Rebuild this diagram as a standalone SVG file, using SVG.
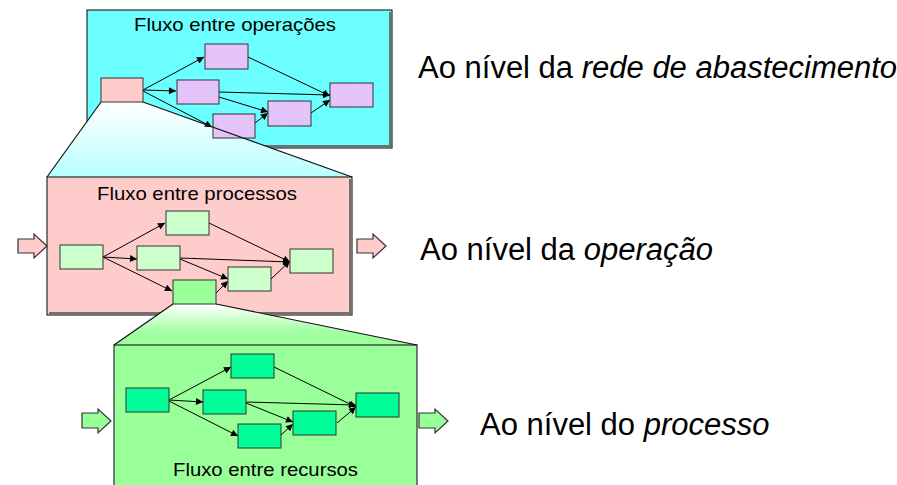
<svg xmlns="http://www.w3.org/2000/svg" width="897" height="485" viewBox="0 0 897 485">
<style>
.frame{stroke:#2a2a2a;stroke-width:1.2}
.bevel{fill:none;stroke:#707070;stroke-width:2}
.node{stroke:#333;stroke-width:1}
.pur{fill:url(#grid)}
.lg{fill:#CCFFCC}
.mg{fill:#99FF99}
.sg{fill:#00FF99}
.pk{fill:#FFCCCC}
.edge{fill:none;stroke:#000;stroke-width:1;marker-end:url(#ah)}
.trap{stroke:#111;stroke-width:1.2}
.title{font-family:"Liberation Sans",Arial,sans-serif;font-size:18.5px;fill:#000}
.big{font-family:"Liberation Sans",Arial,sans-serif;font-size:31px;fill:#000}
.blk{stroke:#333;stroke-width:1.2}
</style>
<defs>
<pattern id="grid" width="3" height="3" patternUnits="userSpaceOnUse">
<rect width="3" height="3" fill="#D8CCFF"/>
<path d="M0,0.5H3M0.5,0V3" stroke="#F4B8F4" stroke-width="0.8"/>
</pattern>
<linearGradient id="cyg" x1="0" y1="0" x2="0" y2="1">
<stop offset="0" stop-color="#FFFFFF"/>
<stop offset="1" stop-color="#B8FFFF"/>
</linearGradient>
<linearGradient id="grg" x1="0" y1="0" x2="0" y2="1">
<stop offset="0" stop-color="#FFFFFF"/>
<stop offset="0.65" stop-color="#A6FFA6"/>
<stop offset="1" stop-color="#99FF99"/>
</linearGradient>
<marker id="ah" viewBox="0 0 10 10" refX="10" refY="5" markerWidth="9" markerHeight="7" markerUnits="userSpaceOnUse" orient="auto">
<path d="M0,0L10,5L0,10z" fill="#000"/>
</marker>
</defs>

<g id="box-operacoes">
<rect class="frame" x="87" y="10" width="305" height="138" fill="#6CFFFF"/>
<path class="bevel" d="M390,12V146H89"/>
<text class="title" x="134" y="31" textLength="202" lengthAdjust="spacingAndGlyphs">Fluxo entre operações</text>
</g>

<g id="zoom-operacao">
<polygon points="101,102 143,102 352,177 47,177" fill="url(#cyg)"/>
</g>

<g id="box-processos">
<rect class="frame" x="47" y="177" width="305" height="138" fill="#FFCCCC"/>
<path class="bevel" d="M350,179V313H49"/>
<text class="title" x="97" y="200" textLength="200" lengthAdjust="spacingAndGlyphs">Fluxo entre processos</text>
</g>

<g id="zoom-processo">
<polygon points="173,304 216,304 417,345 114,345" fill="url(#grg)"/>
</g>

<g id="box-recursos">
<rect class="frame" x="114" y="345" width="303" height="150" fill="#99FF99"/>
<text class="title" x="173" y="476" textLength="185" lengthAdjust="spacingAndGlyphs">Fluxo entre recursos</text>
</g>

<g id="connectors">
<path class="edge" d="M143,90L204,57"/>
<path class="edge" d="M143,90L176,91"/>
<path class="edge" d="M143,91L212,127"/>
<path class="edge" d="M248,57L330,96"/>
<path class="edge" d="M219,92L330,95"/>
<path class="edge" d="M219,97L268,112"/>
<path class="edge" d="M255,123L268,113"/>
<path class="edge" d="M311,113L330,100"/>

<path class="edge" d="M103,257L165,223"/>
<path class="edge" d="M103,257L137,259"/>
<path class="edge" d="M103,257L172,291"/>
<path class="edge" d="M209,223L290,262"/>
<path class="edge" d="M180,258L290,262"/>
<path class="edge" d="M180,259L228,279"/>
<path class="edge" d="M216,293L228,281"/>
<path class="edge" d="M271,279L290,261"/>

<path class="edge" d="M169,400L231,367"/>
<path class="edge" d="M169,400L203,402"/>
<path class="edge" d="M169,401L238,436"/>
<path class="edge" d="M274,367L356,407"/>
<path class="edge" d="M246,402L356,405"/>
<path class="edge" d="M246,403L293,422"/>
<path class="edge" d="M281,435L293,424"/>
<path class="edge" d="M337,423L356,407"/>
</g>

<g id="nodes-operacoes">
<rect id="op0" class="node pk" x="101" y="78" width="42" height="24"/>
<rect id="op1" class="node pur" x="205" y="44" width="43" height="25"/>
<rect id="op2" class="node pur" x="177" y="80" width="42" height="24"/>
<rect id="op3" class="node pur" x="213" y="114" width="42" height="24"/>
<rect id="op4" class="node pur" x="268" y="101" width="43" height="25"/>
<rect id="op5" class="node pur" x="330" y="83" width="43" height="24"/>
</g>

<g id="nodes-processos">
<rect id="pr0" class="node lg" x="60" y="245" width="43" height="24"/>
<rect id="pr1" class="node lg" x="166" y="211" width="43" height="24"/>
<rect id="pr2" class="node lg" x="137" y="246" width="43" height="24"/>
<rect id="pr3" class="node mg" x="173" y="280" width="43" height="24"/>
<rect id="pr4" class="node lg" x="228" y="267" width="43" height="24"/>
<rect id="pr5" class="node lg" x="290" y="249" width="43" height="24"/>
</g>

<g id="nodes-recursos">
<rect id="re0" class="node sg" x="126" y="388" width="43" height="24"/>
<rect id="re1" class="node sg" x="231" y="354" width="43" height="24"/>
<rect id="re2" class="node sg" x="203" y="390" width="43" height="24"/>
<rect id="re3" class="node sg" x="238" y="424" width="43" height="24"/>
<rect id="re4" class="node sg" x="293" y="411" width="43" height="24"/>
<rect id="re5" class="node sg" x="356" y="393" width="43" height="24"/>
</g>

<g id="zoom-lines">
<path class="trap" fill="none" d="M101,102L47,177M143,102L352,177"/>
<path class="trap" fill="none" d="M173,304L114,345M216,304L417,345"/>
</g>

<g id="block-arrows">
<polygon class="blk pk" points="18,239 34,239 34,234 47,246 34,258 34,253 18,253"/>
<polygon class="blk pk" points="357,239 373,239 373,234 386,246 373,258 373,253 357,253"/>
<polygon class="blk mg" points="82,413 98,413 98,409 111,421 98,433 98,428 82,428"/>
<polygon class="blk mg" points="419,413 435,413 435,409 448,421 435,433 435,428 419,428"/>
</g>

<g id="labels">
<text class="big" x="418" y="78">Ao nível da <tspan font-style="italic">rede de abastecimento</tspan></text>
<text class="big" x="420" y="260">Ao nível da <tspan font-style="italic">operação</tspan></text>
<text class="big" x="480" y="435">Ao nível do <tspan font-style="italic">processo</tspan></text>
</g>
</svg>
